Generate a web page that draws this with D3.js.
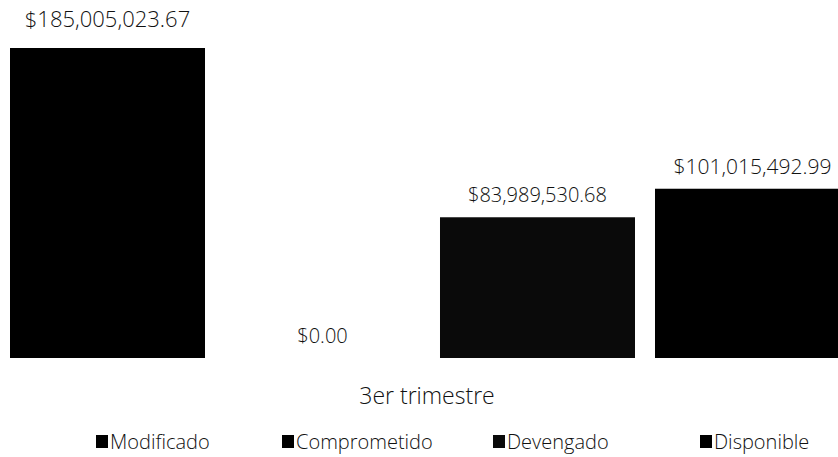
<!DOCTYPE html>
<html>
<head>
<meta charset="utf-8">
<script src="https://cdn.jsdelivr.net/npm/d3@7"></script>
<style>
  body { margin: 0; background: #fff; }
  svg { display: block; font-family: "Open Sans", sans-serif; }
</style>
</head>
<body>
<svg id="chart" width="838" height="457"></svg>
<script>
// one group, four series
const categories = ["Modificado", "Comprometido", "Devengado", "Disponible"];
const values = [185005023.67, 0, 83989530.68, 101015492.99];
const groupLabel = "3er trimestre";
const colors = ["#000", "#000", "#0a0a0a", "#000"];

// label sizes differ a bit in the scanned original
const labelSize = [22, 20, 20, 21];
const legendLeft = [96, 282, 493, 700];

const svg = d3.select("#chart");

const x = d3.scaleBand()
    .domain(categories)
    .range([10, 850])
    .paddingInner(0.093)
    .paddingOuter(0);

const y = d3.scaleLinear()
    .domain([0, d3.max(values)])
    .range([358, 48]);

const fmt = d3.format("$,.2f");

svg.selectAll(".bar")
    .data(categories)
    .enter()
    .append("rect")
    .attr("class", "bar")
    .attr("x", d => x(d))
    .attr("y", (d, i) => y(values[i]))
    .attr("width", x.bandwidth())
    .attr("height", (d, i) => y(0) - y(values[i]))
    .attr("fill", (d, i) => colors[i]);

svg.selectAll(".val")
    .data(categories)
    .enter()
    .append("text")
    .attr("class", "val")
    .attr("x", d => x(d) + x.bandwidth() / 2)
    .attr("y", (d, i) => y(values[i]) - (i == 0 ? 21 : 15))
    .attr("text-anchor", "middle")
    .attr("font-size", (d, i) => labelSize[i])
    .attr("font-weight", 300)
    .attr("fill", "#111")
    .text((d, i) => fmt(values[i]));

// category axis title
svg.append("text")
    .attr("x", 427)
    .attr("y", 404)
    .attr("text-anchor", "middle")
    .attr("font-size", 23)
    .attr("font-weight", 300)
    .attr("fill", "#111")
    .text(groupLabel);

// legend
const lg = svg.selectAll(".legend")
    .data(categories)
    .enter()
    .append("g")
    .attr("class", "legend")
    .attr("transform", (d, i) => `translate(${legendLeft[i]},441)`);

lg.append("rect")
    .attr("x", 0)
    .attr("y", -6)
    .attr("width", 12)
    .attr("height", 13)
    .attr("fill", (d, i) => colors[i]);

lg.append("text")
    .attr("x", 14)
    .attr("y", 8)
    .attr("font-size", 20)
    .attr("font-weight", 300)
    .attr("fill", "#111")
    .text(d => d);
</script>
</body>
</html>
